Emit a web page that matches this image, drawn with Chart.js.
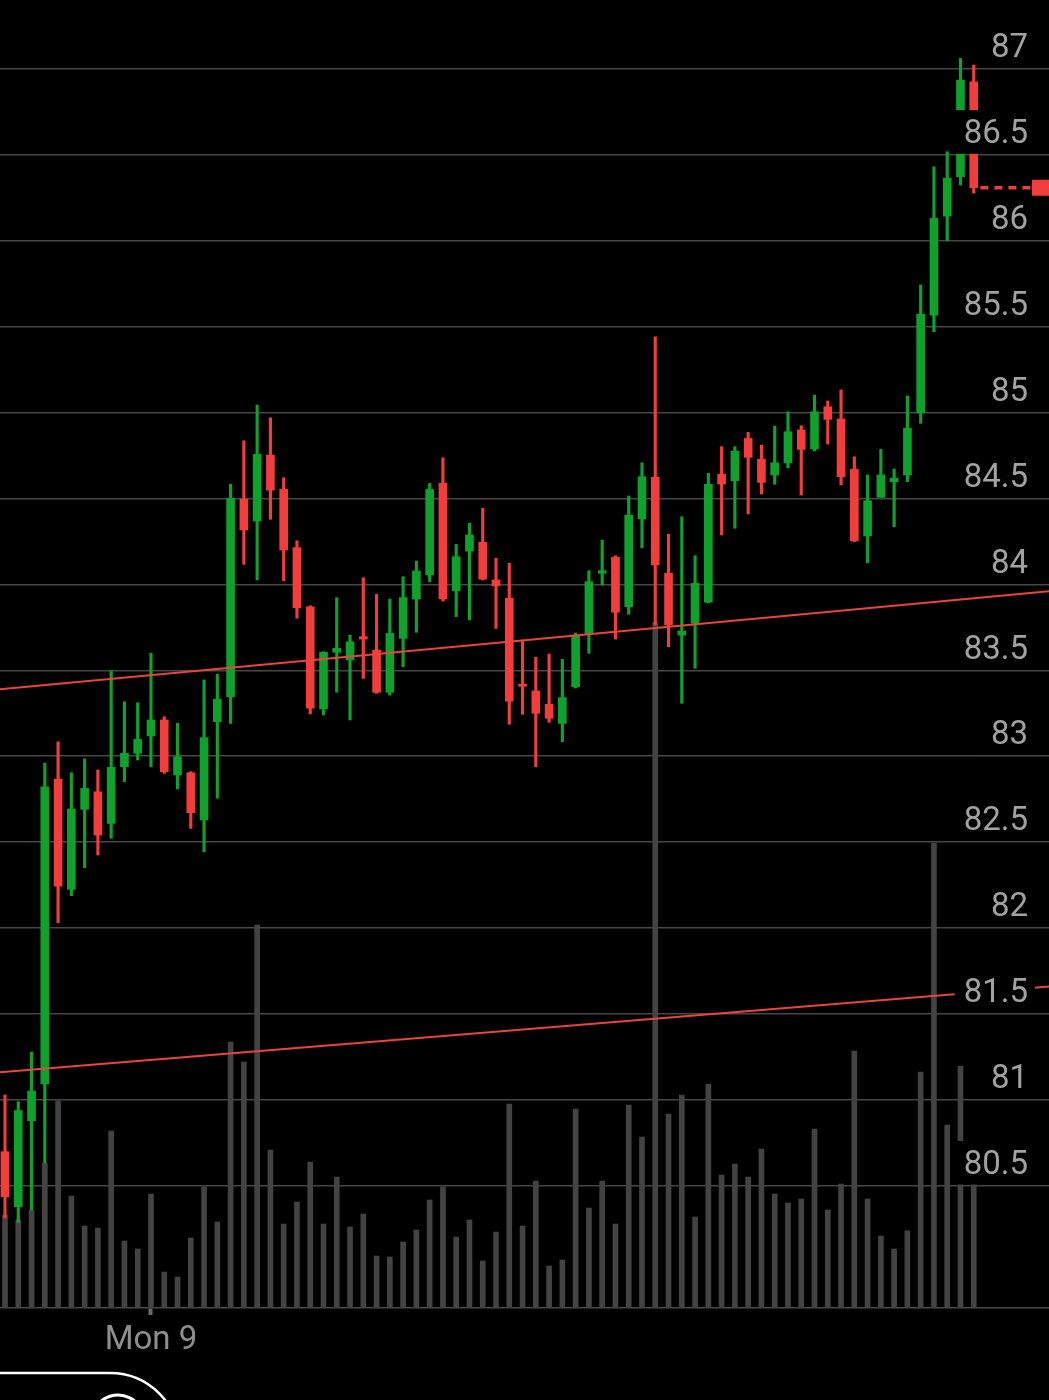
<!DOCTYPE html>
<html>
<head>
<meta charset="utf-8">
<script src="https://cdn.jsdelivr.net/npm/chart.js@4.4.0/dist/chart.umd.min.js"></script>
<style>
  html, body { margin: 0; padding: 0; background: #000; }
  #wrap { width: 1049px; height: 1400px; position: relative; }
</style>
</head>
<body>
<div id="wrap"><canvas id="chart"></canvas></div>
<script>
// candle values
const opens = [80.698, 80.378, 80.878, 81.092, 82.867, 82.225, 82.691, 82.793, 82.609, 82.939,
  83.017, 83.118, 83.211, 82.891, 82.904, 82.629, 83.201, 83.346, 84.497, 84.369,
  84.753, 84.554, 84.214, 83.870, 83.275, 83.605, 83.560, 83.696, 83.618, 83.372,
  83.686, 83.915, 84.055, 84.588, 83.963, 84.194, 84.245, 84.026, 83.919, 83.414,
  83.380, 83.302, 83.191, 83.405, 83.715, 84.065, 84.158, 83.870, 84.381, 84.623,
  84.065, 83.705, 83.774, 83.896, 84.641, 84.604, 84.850, 84.728, 84.637, 84.708,
  84.899, 84.788, 85.034, 84.963, 84.670, 84.282, 84.507, 84.598, 84.637, 84.999,
  85.568, 86.144, 86.373, 86.926]
const closes = [80.436, 80.937, 81.051, 82.822, 82.244, 82.693, 82.813, 82.541, 82.935, 83.017,
  83.098, 83.211, 82.910, 82.997, 82.671, 83.108, 83.331, 84.501, 84.317, 84.757,
  84.549, 84.200, 83.864, 83.279, 83.605, 83.628, 83.666, 83.682, 83.372, 83.715,
  83.923, 84.078, 84.554, 83.915, 84.161, 84.288, 84.031, 83.992, 83.321, 83.407,
  83.250, 83.221, 83.341, 83.705, 84.016, 84.080, 83.838, 84.404, 84.627, 84.113,
  83.764, 83.729, 84.006, 84.583, 84.584, 84.776, 84.740, 84.594, 84.708, 84.889,
  84.786, 85.005, 84.961, 84.627, 84.254, 84.487, 84.637, 84.618, 84.909, 85.574,
  86.131, 86.364, 86.936, 86.309]
const highs = [81.028, 80.989, 81.278, 82.960, 83.084, 82.904, 82.984, 82.920, 83.496, 83.317,
  83.311, 83.599, 83.230, 83.191, 82.910, 83.444, 83.477, 84.583, 84.836, 85.044,
  84.970, 84.621, 84.254, 83.876, 83.608, 83.923, 83.705, 84.039, 83.942, 83.915,
  84.045, 84.136, 84.588, 84.737, 84.233, 84.356, 84.443, 84.152, 84.123, 83.676,
  83.576, 83.595, 83.564, 83.717, 84.080, 84.258, 84.167, 84.515, 84.708, 85.442,
  84.292, 84.394, 84.167, 84.647, 84.802, 84.802, 84.885, 84.811, 84.922, 85.005,
  84.924, 85.102, 85.068, 85.132, 84.743, 84.637, 84.786, 84.672, 85.097, 85.743,
  86.431, 86.519, 87.062, 87.023]
const lows = [80.312, 80.285, 80.359, 80.632, 82.031, 82.188, 82.351, 82.425, 82.522, 82.852,
  82.978, 82.939, 82.900, 82.809, 82.580, 82.444, 82.755, 83.191, 84.117, 84.026,
  84.379, 84.022, 83.803, 83.246, 83.240, 83.372, 83.211, 83.453, 83.366, 83.356,
  83.521, 83.721, 84.016, 83.903, 83.812, 83.793, 84.026, 83.744, 83.186, 83.244,
  82.939, 83.197, 83.084, 83.397, 83.599, 83.997, 83.682, 83.826, 84.214, 83.764,
  83.637, 83.308, 83.512, 83.892, 84.288, 84.327, 84.410, 84.526, 84.583, 84.679,
  84.520, 84.777, 84.817, 84.579, 84.249, 84.126, 84.507, 84.336, 84.598, 84.938,
  85.471, 86.001, 86.325, 86.278]
const volumes = [9.3, 8.8, 9.8, 14.5, 20.7, 11.2, 8.2, 8.0, 17.7, 6.7,
  5.9, 11.4, 3.6, 3.1, 7.0, 12.1, 8.6, 26.6, 24.6, 38.3,
  15.8, 8.4, 10.6, 14.6, 8.4, 13.1, 8.1, 9.4, 5.2, 5.1,
  6.6, 7.8, 10.8, 12.1, 7.1, 8.8, 4.7, 7.6, 20.4, 8.2,
  12.7, 4.2, 4.8, 19.9, 10.0, 12.7, 8.4, 20.3, 17.1, 68.6,
  19.4, 21.3, 9.1, 22.4, 13.3, 14.4, 13.1, 15.9, 11.4, 10.5,
  10.9, 17.9, 9.8, 12.4, 25.7, 10.9, 7.2, 5.9, 7.7, 23.6,
  46.5, 18.3, 24.2, 12.4]

const priceTicks = [80.5, 81, 81.5, 82, 82.5, 83, 83.5, 84, 84.5, 85, 85.5, 86, 86.5, 87]
const xTickIndex = [11]
const xTickLabels = ['Mon 9']

// trend lines: price at left edge, price at right edge
const trendUpper = [83.39, 83.96]
const trendLower = [81.16, 81.66]

const xMin = -0.377, xMax = 78.67
const priceMin = 79.788, priceMax = 87.402
const volMax = 130.8

const green = '#10a12c', red = '#f23d3d'
const candleColors = opens.map((o, i) => closes[i] >= o ? green : red)
const last = closes.length - 1
const lastClose = closes[last]

const overlay = {
  id: 'overlay',
  afterDatasetsDraw(chart) {
    const {ctx, chartArea, scales} = chart
    const y = scales.y.getPixelForValue(lastClose)
    ctx.save()
    ctx.fillStyle = red
    ctx.fillRect(chartArea.right - 17, y - 8, 17, 16)
    ctx.restore()
  },
  afterDraw(chart) {
    // app chrome at the bottom edge
    const ctx = chart.ctx
    ctx.save()
    ctx.strokeStyle = '#fff'
    ctx.lineWidth = 2.5
    ctx.beginPath()
    ctx.moveTo(0, 1373)
    ctx.lineTo(110, 1373)
    ctx.arcTo(179.5, 1373, 179.5, 1442.5, 69.5)
    ctx.stroke()
    ctx.lineWidth = 3
    ctx.beginPath()
    ctx.arc(118, 1421, 26, Math.PI * 1.15, Math.PI * 1.85)
    ctx.stroke()
    ctx.restore()
  }
}

Chart.defaults.font.family = 'Roboto'

const ctx = document.getElementById('chart').getContext('2d')
new Chart(ctx, {
  type: 'bar',
  data: {
    datasets: [
      {
        type: 'line', order: 0, yAxisID: 'y',
        data: [{x: xMin, y: trendUpper[0]}, {x: xMax, y: trendUpper[1]}],
        borderColor: '#e8453f', borderWidth: 2, pointRadius: 0
      },
      {
        type: 'line', order: 0, yAxisID: 'y',
        data: [{x: xMin, y: trendLower[0]}, {x: xMax, y: trendLower[1]}],
        borderColor: '#e8453f', borderWidth: 2, pointRadius: 0
      },
      {
        type: 'line', order: 0, yAxisID: 'y',
        data: [{x: last + 0.5, y: lastClose}, {x: xMax, y: lastClose}],
        borderColor: red, borderWidth: 3.5, borderDash: [8, 6], pointRadius: 0
      },
      {
        order: 1, yAxisID: 'y', grouped: false,
        data: opens.map((o, i) => ({x: i, y: [o, closes[i]]})),
        backgroundColor: candleColors, barThickness: 8, minBarLength: 2, borderWidth: 0
      },
      {
        order: 2, yAxisID: 'y', grouped: false,
        data: lows.map((l, i) => ({x: i, y: [l, highs[i]]})),
        backgroundColor: candleColors, barThickness: 2.5, borderWidth: 0
      },
      {
        order: 3, yAxisID: 'yv', grouped: false,
        data: volumes.map((v, i) => ({x: i, y: v})),
        backgroundColor: '#434343', barThickness: 5, borderWidth: 0
      }
    ]
  },
  options: {
    responsive: true,
    maintainAspectRatio: false,
    devicePixelRatio: 1,
    animation: false,
    layout: { padding: 0 },
    plugins: { legend: { display: false }, tooltip: { enabled: false } },
    scales: {
      x: {
        type: 'linear', min: xMin, max: xMax, offset: false,
        grid: { offset: false, drawOnChartArea: false, drawTicks: true, tickLength: 7, tickWidth: 4, tickColor: '#6a6a6a' },
        border: { display: true, color: '#4a4a4a', width: 1.5 },
        afterBuildTicks: (s) => { s.ticks = xTickIndex.map(v => ({value: v})) },
        afterFit: (s) => { s.height = 92; s.paddingLeft = 0; s.paddingRight = 0 },
        ticks: {
          padding: 6, color: '#8e8e8e', font: { size: 33 },
          maxRotation: 0, autoSkip: false,
          callback: (v, i) => xTickLabels[i]
        }
      },
      y: {
        type: 'linear', position: 'right', min: priceMin, max: priceMax,
        grid: { color: '#474747', lineWidth: 1.5, drawTicks: false },
        border: { display: false },
        afterBuildTicks: (s) => { s.ticks = priceTicks.map(v => ({value: v})) },
        afterFit: (s) => { s.width = 0; s.paddingTop = 0; s.paddingBottom = 0 },
        ticks: {
          mirror: true, padding: -21, labelOffset: -20, z: 1,
          showLabelBackdrop: true, backdropColor: '#000',
          backdropPadding: {top: 5, bottom: -1, left: 9, right: 7},
          color: '#a2a2a2', font: { size: 33 },
          callback: (v) => String(v)
        }
      },
      yv: {
        type: 'linear', display: false, min: 0, max: volMax
      }
    }
  },
  plugins: [overlay]
})
</script>
</body>
</html>
